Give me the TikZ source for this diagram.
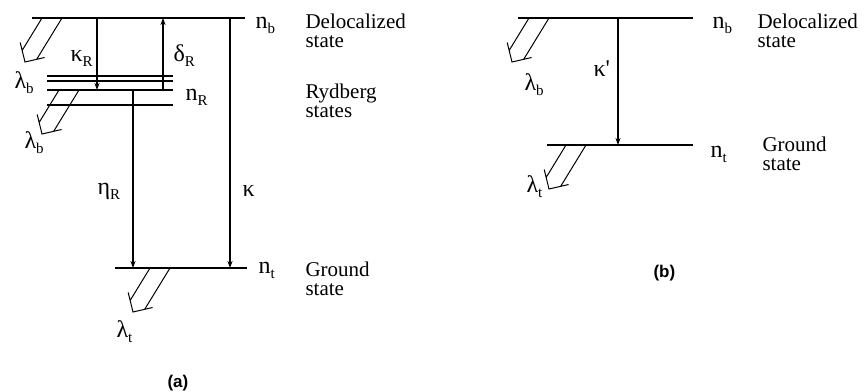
\documentclass[tikz,border=0pt]{standalone}
\usepackage{fontspec}
\setmainfont{Liberation Serif}
\newfontfamily\lsans{Liberation Sans}
\usetikzlibrary{arrows.meta}
\newcommand\sbx[1]{\raisebox{-0.22em}{\fontsize{15}{15}\selectfont #1}}
\begin{document}
\begin{tikzpicture}[x=1pt,y=-1pt,line width=1.1pt,
  lvl/.style={draw},
  trans/.style={draw,-{Stealth[length=7pt,width=5pt]}},
  sym/.style={anchor=base west,inner sep=0pt,font=\fontsize{24}{24}\selectfont},
  txt/.style={anchor=north west,inner sep=0pt,align=left,font=\fontsize{21}{19}\selectfont},
  figcap/.style={anchor=base west,inner sep=0pt,font=\lsans\bfseries\fontsize{17}{17}\selectfont},
  hollow/.pic={\draw[line width=1pt,line join=miter]
     (-10,0) -- (-29.7,32.2) (10,0) -- (-15.2,41.1)
     (-31.8,24.5) -- (-27,44) -- (-7.4,39.5);}
]
\useasboundingbox (0,0) rectangle (866,391);
% ---------- panel (a) ----------
\coordinate (bL) at (32,18);  \coordinate (bR) at (245,18);
\coordinate (r1L) at (47,76); \coordinate (r1R) at (173,76);
\coordinate (r2L) at (47,81); \coordinate (r2R) at (173,81);
\coordinate (r3L) at (47,90); \coordinate (r3R) at (173,90);
\coordinate (r4L) at (47,105); \coordinate (r4R) at (173,105);
\coordinate (tL) at (115,268); \coordinate (tR) at (247,268);
\draw[lvl] (bL) -- (bR);
\draw[lvl] (r1L) -- (r1R);
\draw[lvl] (r2L) -- (r2R);
\draw[lvl] (r3L) -- (r3R);
\draw[lvl] (r4L) -- (r4R);
\draw[lvl] (tL) -- (tR);
\coordinate (kRs) at (97,18);  \coordinate (kRe) at (97,90);
\coordinate (dRs) at (163,90); \coordinate (dRe) at (163,18);
\coordinate (eRs) at (133,90); \coordinate (eRe) at (133,268);
\coordinate (ks) at (230,18);  \coordinate (ke) at (230,268);
\draw[trans] (kRs) -- (kRe);
\draw[trans] (dRs) -- (dRe);
\draw[trans] (eRs) -- (eRe);
\draw[trans] (ks) -- (ke);
\pic at (52,18) {hollow};
\pic at (69,90) {hollow};
\pic at (160,268) {hollow};
\node[sym] (nb) at (255,28) {n\sbx{b}};
\node[sym] (nR) at (185,100) {n\sbx{R}};
\node[sym] (nt) at (258,273) {n\sbx{t}};
\node[sym] (kR) at (70,61) {κ\sbx{R}};
\node[sym] (dR) at (173,61) {δ\sbx{R}};
\node[sym] (eR) at (97,194) {η\sbx{R}};
\node[sym] (k) at (242,196) {κ};
\node[sym] (lb1) at (14,88) {λ\sbx{b}};
\node[sym] (lb2) at (24,148) {λ\sbx{b}};
\node[sym] (lt1) at (116,337) {λ\sbx{t}};
\node[txt] (dl) at (305,13) {Delocalized\\state};
\node[txt] (ry) at (305,83) {Rydberg\\states};
\node[txt] (gr) at (305,261) {Ground\\state};
\node[figcap] (ca) at (167,387) {(a)};
% ---------- panel (b) ----------
\coordinate (BbL) at (518,18); \coordinate (BbR) at (693,18);
\coordinate (BtL) at (547,145); \coordinate (BtR) at (693,145);
\draw[lvl] (BbL) -- (BbR);
\draw[lvl] (BtL) -- (BtR);
\coordinate (kps) at (618,18); \coordinate (kpe) at (618,145);
\draw[trans] (kps) -- (kpe);
\pic at (539,18) {hollow};
\pic at (576,145) {hollow};
\node[sym] (Bnb) at (712,28) {n\sbx{b}};
\node[sym] (Bnt) at (710,157) {n\sbx{t}};
\node[sym] (kp) at (593,76) {κ\textquotesingle};
\node[sym] (Blb) at (524,90) {λ\sbx{b}};
\node[sym] (Blt) at (526,192) {λ\sbx{t}};
\node[txt] (Bdl) at (757,13) {Delocalized\\state};
\node[txt] (Bgr) at (762,136) {Ground\\state};
\node[figcap] (cb) at (653,277) {(b)};
\end{tikzpicture}
\end{document}
